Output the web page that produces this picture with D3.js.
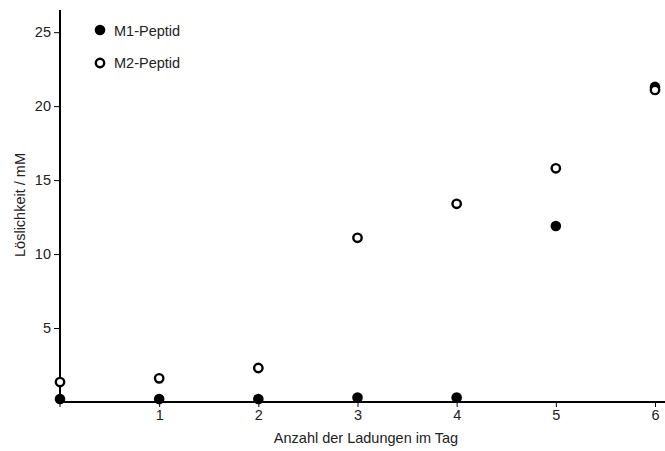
<!DOCTYPE html>
<html><head><meta charset="utf-8">
<script src="https://cdn.jsdelivr.net/npm/d3@7"></script>
<style>body{margin:0;background:#fff}svg{display:block;font-family:"Liberation Sans",Arial,sans-serif}</style>
</head><body><svg id="c" width="665" height="451"></svg>
<script>
const charges = [0, 1, 2, 3, 4, 5, 6];
const m1 = [0.2, 0.2, 0.2, 0.3, 0.3, 11.9, 21.3];
const m2 = [1.35, 1.6, 2.3, 11.1, 13.4, 15.8, 21.1];
const xTicks = [1, 2, 3, 4, 5, 6];
const yTicks = [5, 10, 15, 20, 25];
const seriesNames = ["M1-Peptid", "M2-Peptid"];

const FS = 14.5;
const svg = d3.select("#c");
const x = d3.scaleLinear().domain([0, 6]).range([60, 655]);
const y = d3.scaleLinear().domain([0, 26.5]).range([402, 10]);

// x axis
const xa = svg.append("g").attr("transform", "translate(0,402)")
  .call(d3.axisBottom(x).tickValues(xTicks).tickSize(5).tickPadding(3).tickFormat(d3.format("d")));
xa.select(".domain").remove();
xa.append("line").attr("x1", 60).attr("x2", 665).attr("stroke", "#000").attr("stroke-width", 2);
xa.append("line").attr("x1", x(0)).attr("x2", x(0)).attr("y1", 0).attr("y2", 5).attr("stroke", "#000");
xa.selectAll("text").attr("font-size", FS).attr("fill", "#222").attr("font-family", "Liberation Sans, Arial, sans-serif");

// y axis
const ya = svg.append("g").attr("transform", "translate(60,0)")
  .call(d3.axisLeft(y).tickValues(yTicks).tickSize(6).tickPadding(3));
ya.select(".domain").remove();
ya.append("line").attr("y1", 10).attr("y2", 403).attr("stroke", "#000").attr("stroke-width", 2);
ya.selectAll("text").attr("font-size", FS).attr("fill", "#222").attr("font-family", "Liberation Sans, Arial, sans-serif");

// axis labels
svg.append("text").attr("x", 366).attr("y", 443).attr("text-anchor", "middle")
  .attr("font-size", FS).attr("fill", "#222").text("Anzahl der Ladungen im Tag");
svg.append("text").attr("transform", "translate(25,205) rotate(-90)").attr("text-anchor", "middle")
  .attr("font-size", FS).attr("fill", "#222").text("Löslichkeit / mM");

// points
svg.append("g").selectAll("circle").data(charges).join("circle")
  .attr("cx", (d) => x(d)).attr("cy", (d, i) => y(m1[i])).attr("r", 5.3).attr("fill", "#000");
svg.append("g").selectAll("circle").data(charges).join("circle")
  .attr("cx", (d) => x(d)).attr("cy", (d, i) => y(m2[i])).attr("r", 4.2)
  .attr("fill", "#fff").attr("stroke", "#000").attr("stroke-width", 2.4);

// legend
const lg = svg.append("g");
lg.append("circle").attr("cx", 100).attr("cy", 30).attr("r", 5.3).attr("fill", "#000");
lg.append("circle").attr("cx", 100).attr("cy", 63).attr("r", 4.2).attr("fill", "#fff").attr("stroke", "#000").attr("stroke-width", 2.4);
lg.selectAll("text").data(seriesNames).join("text")
  .attr("x", 114).attr("y", (d, i) => 36 + i * 32).attr("font-size", FS).attr("fill", "#222").text((d) => d);
</script></body></html>
